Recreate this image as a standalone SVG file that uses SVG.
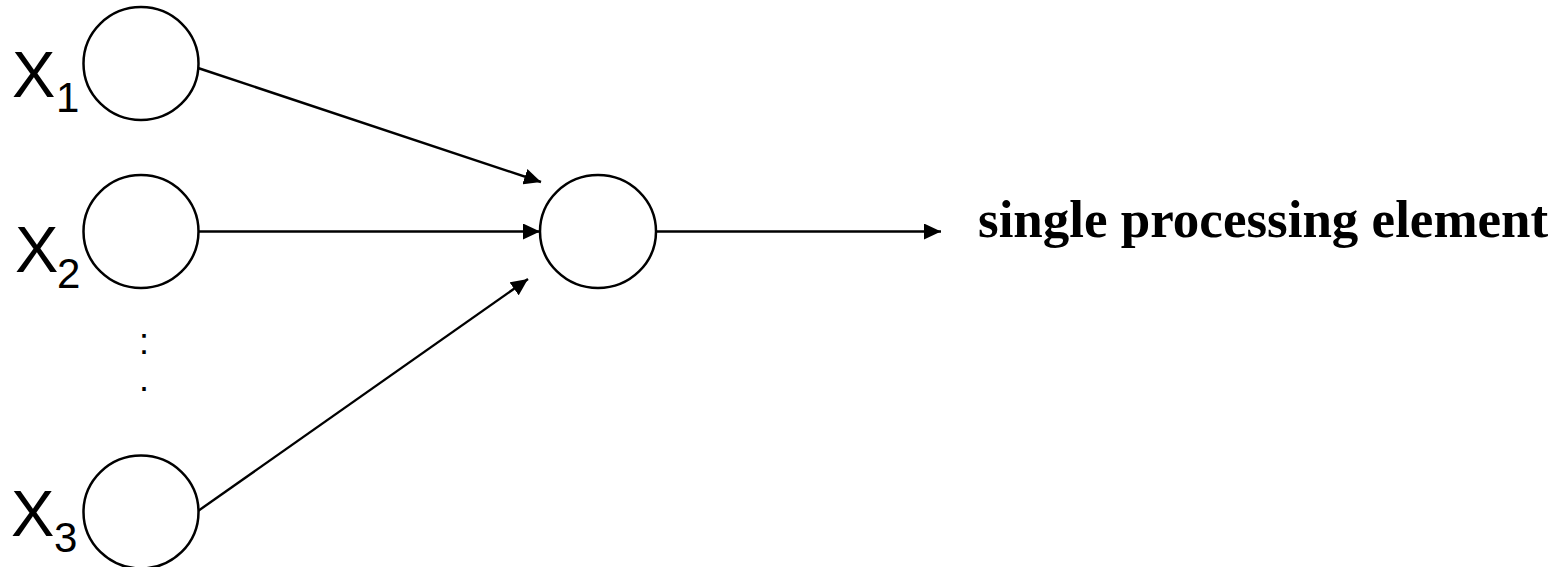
<svg xmlns="http://www.w3.org/2000/svg" width="1568" height="567" viewBox="0 0 1568 567">
<style>
.node{fill:#fff;stroke:#000;stroke-width:2.5}
.edge{stroke:#000;stroke-width:2.4;fill:none}
.lbl{font-family:"Liberation Sans",Arial,sans-serif;fill:#000}
.title{font-family:"Liberation Serif","Times New Roman",serif;font-weight:bold;font-size:53px;fill:#000}
</style>
<defs>
<marker id="arr" markerUnits="userSpaceOnUse" markerWidth="18" markerHeight="16" refX="17" refY="8" orient="auto">
<path d="M0,0 L17,8 L0,16 z" fill="#000"/>
</marker>
</defs>
<rect width="1568" height="567" fill="#fff"/>
<g id="connectors">
<line class="edge" x1="198" y1="68" x2="541" y2="182" marker-end="url(#arr)"/>
<line class="edge" x1="198" y1="231.5" x2="540" y2="231.5" marker-end="url(#arr)"/>
<line class="edge" x1="198" y1="511" x2="528" y2="279" marker-end="url(#arr)"/>
<line class="edge" x1="656" y1="231.5" x2="941" y2="231.5" marker-end="url(#arr)"/>
</g>
<g id="x1">
<ellipse class="node" cx="141" cy="63.5" rx="57.5" ry="56.5"/>
<text class="lbl" x="12" y="97" font-size="65">X</text>
<text class="lbl" x="56" y="112" font-size="42">1</text>
</g>
<g id="x2">
<ellipse class="node" cx="141" cy="231.5" rx="57.5" ry="56.5"/>
<text class="lbl" x="15" y="272" font-size="65">X</text>
<text class="lbl" x="57" y="288" font-size="42">2</text>
</g>
<g id="dots">
<text class="lbl" x="144" y="354" font-size="36" text-anchor="middle">:</text>
<text class="lbl" x="144" y="391" font-size="36" text-anchor="middle">.</text>
</g>
<g id="x3">
<ellipse class="node" cx="141" cy="512" rx="57.5" ry="56.5"/>
<text class="lbl" x="11" y="536" font-size="65">X</text>
<text class="lbl" x="54" y="552" font-size="42">3</text>
</g>
<g id="pe">
<ellipse class="node" cx="598" cy="231.5" rx="58" ry="56.5"/>
</g>
<g id="label">
<text class="title" x="978" y="237">single processing element</text>
</g>
</svg>
